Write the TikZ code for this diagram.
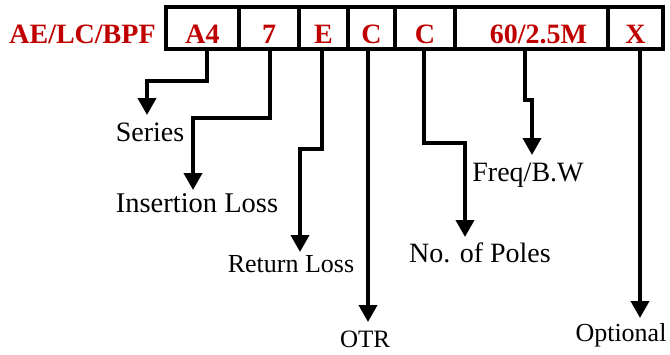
\documentclass[tikz,border=0pt]{standalone}
\usepackage{fontspec}
\setmainfont{Liberation Serif}
\usetikzlibrary{arrows.meta}
\definecolor{codered}{RGB}{192,0,0}
\begin{document}
\begin{tikzpicture}[x=1pt,y=-1pt,
  cell/.style={draw, line width=3.8pt, inner sep=0pt, minimum height=42pt, text height=30pt, text depth=0pt, font=\fontsize{28}{30}\selectfont\bfseries, text=codered},
  conn/.style={line width=3.8pt, -{Triangle[length=17pt,width=18pt]}},
  lbl/.style={inner sep=0pt, anchor=north, font=\fontsize{28}{30}\selectfont},
  lbls/.style={lbl, font=\fontsize{26}{28}\selectfont}]
\useasboundingbox (0,0) rectangle (670,354);
% header
\node[anchor=base, inner sep=0pt, text=codered, font=\fontsize{28}{30}\selectfont\bfseries] (head) at (82.5,43) {AE/LC/BPF};
% cells
\node[cell, minimum width=73pt] (a4) at (202.5,28) {A4};
\node[cell, minimum width=60pt] (c7) at (269,28) {7};
\node[cell, minimum width=49pt] (ce) at (323.5,28) {E};
\node[cell, minimum width=47pt] (cc1) at (371.5,28) {C};
\node[cell, minimum width=60pt] (cc2) at (425,28) {C};
\node[cell, minimum width=153pt] (cf) at (531.5,28) {\hspace*{14pt}60/2.5M};
\node[cell, minimum width=55pt] (cx) at (635.5,28) {X};
% labels
\node[lbl] (series) at (150,123) {Series};
\node[lbl, font=\fontsize{28.5}{30}\selectfont] (ins) at (197,193) {Insertion Loss};
\node[lbls] (ret) at (291,255) {Return Loss};
\node[lbls, font=\fontsize{25}{27}\selectfont] (otr) at (365,331) {OTR};
\node[lbl] (poles) at (480,243) {No. of Poles};
\node[lbl] (freq) at (528,163) {Freq/B.W};
\node[lbls] (opt) at (621,323) {Optional};
% connectors
\draw[conn, shorten >=8pt] ([xshift=4.5pt]a4.south) |- (147,81) -- (series.north -| 147,0);
\draw[conn, shorten >=3pt] ([xshift=1pt]c7.south) |- (193,118) -- (ins.north -| 193,0);
\draw[conn, shorten >=3pt] ([xshift=-1.5pt]ce.south) |- (300,149) -- (ret.north -| 300,0);
\draw[conn, shorten >=9pt] ([xshift=-3.5pt]cc1.south) -- (otr.north -| 368,0);
\draw[conn, shorten >=6pt] ([xshift=-1pt]cc2.south) |- (465,143) -- (poles.north -| 465,0);
\draw[conn, shorten >=8pt] ([xshift=-6.5pt]cf.south) |- (532,100) -- (freq.north -| 532,0);
\draw[conn, shorten >=5pt] ([xshift=4.5pt]cx.south) -- (opt.north -| 640,0);
\end{tikzpicture}
\end{document}
